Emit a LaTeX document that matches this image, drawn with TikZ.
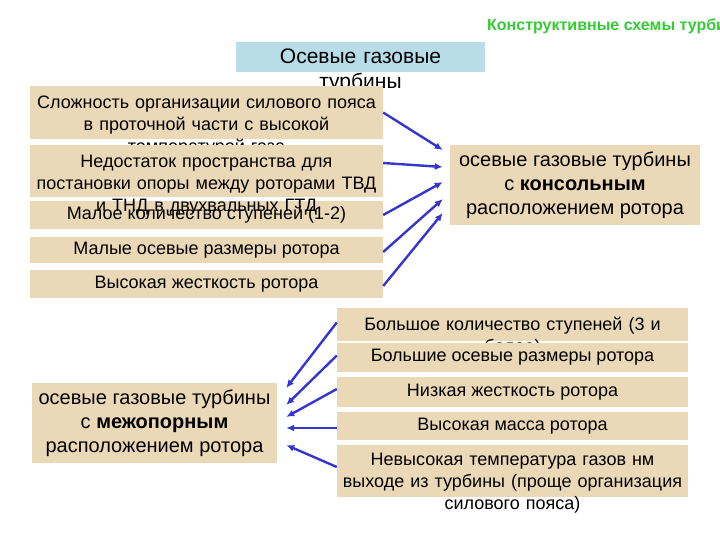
\documentclass[tikz,border=0pt]{standalone}
\usepackage{fontspec}
\setmainfont{Liberation Sans}
\usepackage{xcolor}
\usetikzlibrary{arrows.meta,calc,positioning}
\definecolor{boxtan}{HTML}{EBD8B7}
\definecolor{headblue}{HTML}{B7DDE8}
\definecolor{arrowblue}{HTML}{3535D0}
\definecolor{titlegreen}{HTML}{33CC33}
\tikzset{
  tanbox/.style={fill=boxtan,inner sep=0pt,minimum width=353pt,align=center,font=\fontsize{18}{22}\selectfont},
  rightbox/.style={tanbox,minimum width=351pt},
  resultbox/.style={fill=boxtan,inner sep=0pt,align=center,font=\fontsize{20}{24}\selectfont},
  headbox/.style={fill=headblue,inner sep=0pt,minimum width=249pt,minimum height=30pt},
  boxtext/.style={anchor=base,align=center,inner sep=0pt,text width=350pt,font=\fontsize{18}{22}\selectfont},
  linkarrow/.style={-{Latex[length=8pt,width=7pt]},line width=2.4pt,arrowblue}
}

\begin{document}
\begin{tikzpicture}[x=1pt,y=-1pt]
  \useasboundingbox (0,0) rectangle (720,540);
  \clip (0,0) rectangle (720,540);
  \node[anchor=base west,inner sep=0pt,text=titlegreen,font=\bfseries\fontsize{16}{18}\selectfont] (title) at (487,31) {Конструктивные схемы турби};
  \node[headbox] (head) at (360.5,57) {};
  \node[boxtext,font=\fontsize{21}{24.5}\selectfont] (headtxt) at (360.5,64) {Осевые газовые\\турбины};

  \node[tanbox,minimum height=53pt] (hard) at (206.5,112.5) {};
  \node[boxtext] (hardtxt) at (206.5,108.5) {Сложность организации силового пояса\\в проточной части с высокой\\температурой газа};
  \node[tanbox,minimum height=28pt] (fewstage) at (206.5,215) {Малое количество ступеней (1-2)};
  \node[tanbox,minimum height=52pt] (space) at (206.5,171) {};
  \node[boxtext] (spacetxt) at (206.5,167.5) {Недостаток пространства для\\постановки опоры между роторами ТВД\\и ТНД в двухвальных ГТД};
  \node[tanbox,minimum height=26pt] (shortax) at (206.5,250) {Малые осевые размеры ротора};
  \node[tanbox,minimum height=28pt] (stiff) at (206.5,284) {Высокая жесткость ротора};

  \node[resultbox,minimum width=250pt,minimum height=80pt] (consbox) at (575,185) {осевые газовые турбины\\с \textbf{консольным}\\расположением ротора};

  \node[rightbox,minimum height=33pt] (many) at (512.5,324.5) {};
  \node[boxtext] (manytxt) at (512.5,330) {Большое количество ступеней (3 и\\более)};
  \node[rightbox,minimum height=29pt] (longax) at (512.5,357.5) {Большие осевые размеры ротора};
  \node[rightbox,minimum height=30pt] (lowstiff) at (512.5,392) {Низкая жесткость ротора};
  \node[rightbox,minimum height=28pt] (heavy) at (512.5,426) {Высокая масса ротора};
  \node[rightbox,minimum height=52pt] (lowtemp) at (512.5,471) {};
  \node[boxtext] (lowtemptxt) at (512.5,465) {Невысокая температура газов нм\\выходе из турбины (проще организация\\силового пояса)};

  \node[resultbox,minimum width=245pt,minimum height=80pt] (betwbox) at (154.5,423) {осевые газовые турбины\\с \textbf{межопорным}\\расположением ротора};

  \foreach \src/\sy/\dy in {hard/0/35,space/8/18,fewstage/0/3,shortax/-2/-14,stiff/-2/-28}
    \draw[linkarrow] ([yshift=\sy pt]\src.east) -- ([xshift=-7pt,yshift=\dy pt]consbox.west);
  \foreach \src/\sy/\dy in {many/2/35,longax/2/18,lowstiff/3/6,heavy/-2/-5,lowtemp/4/-22}
    \draw[linkarrow] ([yshift=\sy pt]\src.west) -- ([xshift=9pt,yshift=\dy pt]betwbox.east);
\end{tikzpicture}
\end{document}
